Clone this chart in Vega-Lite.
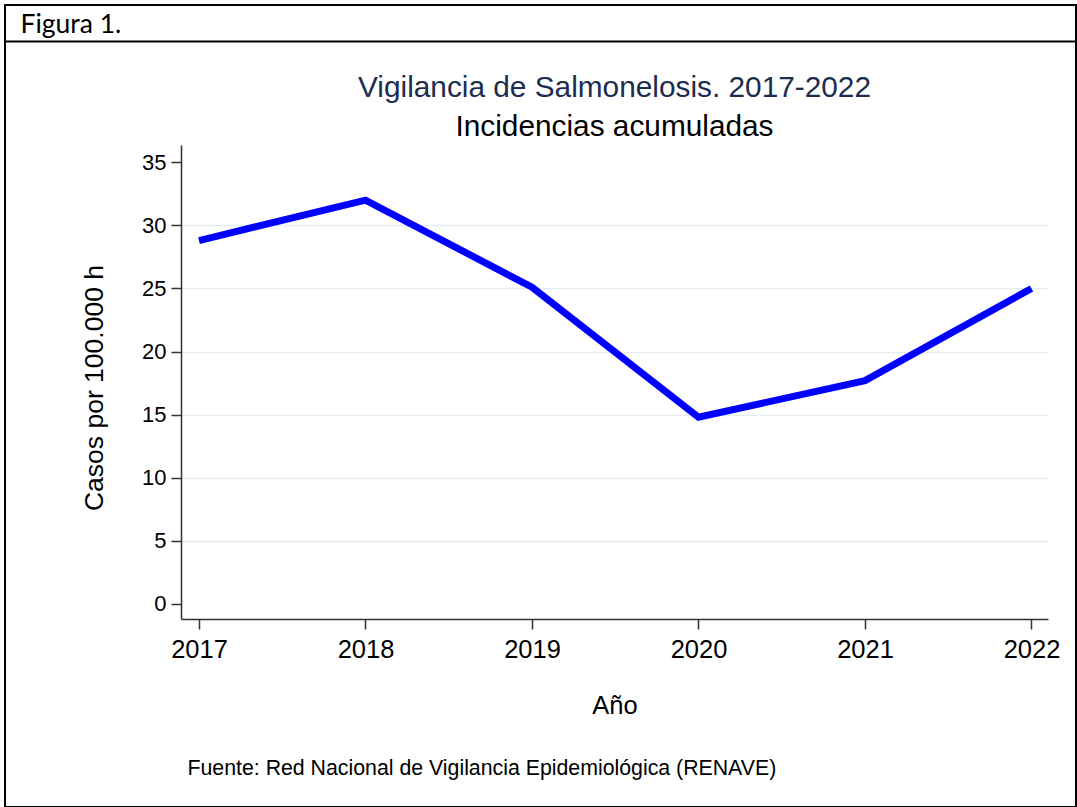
{
  "$schema": "https://vega.github.io/schema/vega-lite/v6.json",
  "autosize": "none",
  "padding": {"left": 5, "top": 5, "right": 1, "bottom": 0},
  "width": 1071,
  "height": 802,
  "background": "white",
  "title": {
    "text": "Vigilancia de Salmonelosis. 2017-2022",
    "subtitle": "Incidencias acumuladas",
    "anchor": "middle",
    "frame": "group",
    "dx": 74,
    "offset": -137,
    "font": "Liberation Sans",
    "fontSize": 29.8,
    "fontWeight": "normal",
    "color": "#1c2d4f",
    "subtitleFont": "Liberation Sans",
    "subtitleFontSize": 29.8,
    "subtitleColor": "#000000",
    "subtitlePadding": 9
  },
  "config": {
    "view": {"stroke": "#000000", "strokeWidth": 2},
    "axis": {"labelFont": "Liberation Sans", "titleFont": "Liberation Sans", "labelColor": "#000000", "titleColor": "#000000", "titleFontWeight": "normal"}
  },
  "resolve": {
    "scale": {"x": "independent", "y": "independent"},
    "axis": {"x": "independent", "y": "independent"}
  },
  "layer": [
    {
      "data": {
        "values": [
          {"year": 2017, "value": 28.8},
          {"year": 2018, "value": 32.0},
          {"year": 2019, "value": 25.1},
          {"year": 2020, "value": 14.8},
          {"year": 2021, "value": 17.7},
          {"year": 2022, "value": 25.0}
        ]
      },
      "mark": {"type": "line", "color": "#0000ff", "strokeWidth": 7, "strokeCap": "butt", "strokeJoin": "miter"},
      "encoding": {
        "x": {
          "field": "year",
          "type": "quantitative",
          "scale": {"domain": [2016.8919, 2022.0991], "range": [176, 1043], "nice": false, "zero": false},
          "axis": {
            "orient": "bottom",
            "offset": -188,
            "values": [2017, 2018, 2019, 2020, 2021, 2022],
            "format": "d",
            "labelFontSize": 25.5,
            "labelPadding": 8,
            "labelFlush": false,
            "labelOverlap": false,
            "tickSize": 10,
            "tickWidth": 1.5,
            "tickColor": "#333333",
            "domainColor": "#333333",
            "domainWidth": 1.5,
            "grid": false,
            "title": "Año",
            "titleFontSize": 25.5,
            "titleY": 74
          }
        },
        "y": {
          "field": "value",
          "type": "quantitative",
          "scale": {"domain": [-1.189, 36.371], "range": [614, 140], "nice": false, "zero": false},
          "axis": {
            "orient": "left",
            "offset": -176,
            "values": [0, 5, 10, 15, 20, 25, 30, 35],
            "labelFontSize": 22,
            "labelPadding": 5,
            "tickSize": 10,
            "tickWidth": 1.5,
            "tickColor": "#333333",
            "domainColor": "#333333",
            "domainWidth": 1.5,
            "grid": true,
            "gridColor": "#e4eef0",
            "gridWidth": 1.5,
            "gridOpacity": {"condition": {"test": "datum.value === 0 || datum.value === 35", "value": 0}, "value": 1},
            "title": "Casos por 100.000 h",
            "titleFontSize": 26.5,
            "titleX": -72.4,
            "titleY": 382.5,
            "titleBaseline": "bottom"
          }
        }
      }
    },
    {
      "data": {"values": [{"v": 0}]},
      "mark": {"type": "point", "opacity": 0},
      "encoding": {
        "x": {
          "field": "v",
          "type": "quantitative",
          "scale": {"domain": [0, 1], "nice": false, "zero": false},
          "axis": {
            "orient": "top",
            "offset": -36,
            "ticks": false,
            "labels": false,
            "grid": false,
            "domainColor": "#000000",
            "domainWidth": 2,
            "title": "Figura 1.",
            "titleFont": "Lato",
            "titleFontSize": 26.5,
            "titleFontWeight": "normal",
            "titleAnchor": "start",
            "titleAlign": "left",
            "titleBaseline": "alphabetic",
            "titleX": 15,
            "titleY": -9
          }
        },
        "y": {
          "field": "v",
          "type": "quantitative",
          "scale": {"domain": [0, 1], "nice": false, "zero": false},
          "axis": {
            "orient": "right",
            "domain": false,
            "ticks": false,
            "labels": false,
            "grid": false,
            "title": "Fuente: Red Nacional de Vigilancia Epidemiológica (RENAVE)",
            "titleFontSize": 21.3,
            "titleAngle": 0,
            "titleAlign": "left",
            "titleBaseline": "alphabetic",
            "titleX": -889,
            "titleY": 769.5
          }
        }
      }
    }
  ]
}
